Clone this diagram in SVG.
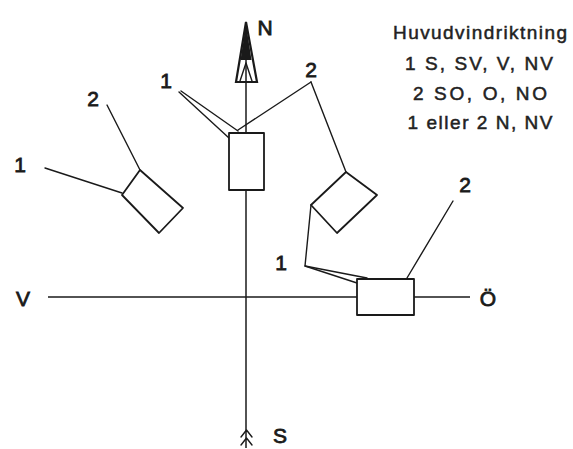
<svg xmlns="http://www.w3.org/2000/svg" width="573" height="449" viewBox="0 0 573 449">
<style>
.ln{stroke:#1a1a1a;stroke-width:1.4;fill:none;stroke-linecap:round;stroke-linejoin:round}
.ax{stroke:#1a1a1a;stroke-width:1.5;fill:none}
.bx{stroke:#1a1a1a;stroke-width:1.8;fill:#fff;stroke-linejoin:round}
.lb{font-family:"Liberation Sans",Arial,sans-serif;font-size:21px;fill:#1a1a1a;stroke:#1a1a1a;stroke-width:0.8;text-anchor:middle}
.lg{font-family:"Liberation Sans",Arial,sans-serif;font-size:19px;fill:#222;stroke:#222;stroke-width:0.5;text-anchor:middle}
</style>
<rect width="573" height="449" fill="#fff"/>
<g id="axes">
<line class="ax" x1="246" y1="24" x2="246" y2="448"/>
<line class="ax" x1="48" y1="297" x2="470" y2="297"/>
<path d="M246,22 L236,82 L257,82 Z" fill="none" stroke="#1a1a1a" stroke-width="2.2" stroke-linejoin="miter"/>
<path d="M246,24 L240.5,60 L251.5,60 Z" fill="#1a1a1a"/>
<path class="ln" d="M240,81 L246,63 L252,81"/>
<path class="ln" d="M241,437 L246.5,430 L252,437 M241,445 L246.5,438 L252,445"/>
</g>
<g id="axis-labels">
<text class="lb" x="265" y="35">N</text>
<text class="lb" x="280" y="443">S</text>
<text class="lb" x="23" y="306">V</text>
<text class="lb" x="488" y="306">Ö</text>
</g>
<g id="connectors">
<line class="ln" x1="179" y1="92" x2="229" y2="138"/>
<line class="ln" x1="181" y1="91" x2="238" y2="131"/>
<line class="ln" x1="311" y1="82" x2="238" y2="130"/>
<line class="ln" x1="311" y1="82" x2="346" y2="172"/>
<line class="ln" x1="107" y1="105" x2="140" y2="170"/>
<line class="ln" x1="45" y1="168" x2="122" y2="193"/>
<polyline class="ln" points="311,205 305,266 367,278"/>
<line class="ln" x1="305" y1="266" x2="357" y2="283"/>
<line class="ln" x1="453" y1="201" x2="407" y2="278"/>
</g>
<g id="box-center">
<rect class="bx" x="229" y="133" width="35" height="57"/>
</g>
<g id="box-left">
<polygon class="bx" points="122,195 140,170 183,208 159,233"/>
</g>
<g id="box-right">
<polygon class="bx" points="311,205 346,172 377,195 337,233"/>
</g>
<g id="box-east">
<rect class="bx" x="357" y="279" width="57" height="36"/>
</g>
<g id="labels">
<text class="lb" x="166" y="88">1</text>
<text class="lb" x="311" y="77">2</text>
<text class="lb" x="93" y="106">2</text>
<text class="lb" x="20" y="172">1</text>
<text class="lb" x="281" y="270">1</text>
<text class="lb" x="465" y="192">2</text>
</g>
<g id="legend">
<text class="lg" x="480" y="39" textLength="174" lengthAdjust="spacing">Huvudvindriktning</text>
<text class="lg" x="479" y="70" textLength="148" lengthAdjust="spacing">1 S, SV, V, NV</text>
<text class="lg" x="480" y="100" textLength="134" lengthAdjust="spacing">2 SO, O, NO</text>
<text class="lg" x="480" y="129" textLength="145" lengthAdjust="spacing">1 eller 2 N, NV</text>
</g>
</svg>
